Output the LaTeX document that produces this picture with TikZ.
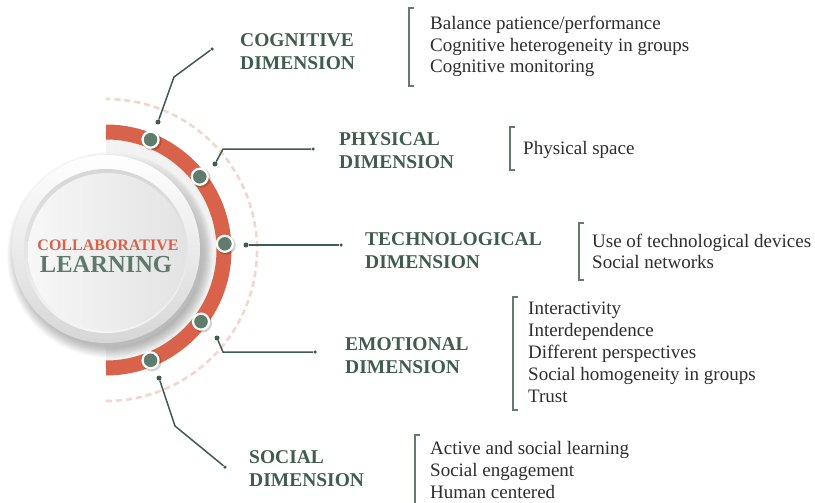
\documentclass[tikz,border=0pt]{standalone}
\usepackage{fontspec}
\setmainfont{Liberation Serif}
\usetikzlibrary{calc}
\definecolor{arcred}{HTML}{D8634A}
\definecolor{dotgreen}{HTML}{5F7C6D}
\definecolor{labgreen}{HTML}{3E5C4F}
\definecolor{dashpink}{HTML}{F6D6CC}
\definecolor{txtgray}{HTML}{2E2E2E}
\definecolor{learngreen}{HTML}{5E7A6B}
\tikzset{
  arcdot/.style={circle, fill=dotgreen, draw=white, line width=2.2pt, minimum size=16pt, inner sep=0pt},
  sdot/.style={circle, fill=labgreen, minimum size=5pt, inner sep=0pt},
  edot/.style={circle, fill=labgreen, minimum size=3.5pt, inner sep=0pt},
  conn/.style={draw=labgreen, line width=1.5pt},
  lab/.style={font=\fontsize{19.5}{23}\selectfont\bfseries, text=labgreen, align=left, anchor=west, inner sep=0pt},
  items/.style={font=\fontsize{19}{21.8}\selectfont, text=txtgray, align=left, anchor=west, inner sep=0pt},
  brk/.style={draw=dotgreen, line width=1.6pt}
}
\begin{document}
\begin{tikzpicture}[x=1pt,y=-1pt]
\useasboundingbox (0,0) rectangle (815,503);
\fill[white] (0,0) rectangle (815,503);
% dashed outer arc
\draw[dashpink, line width=2.6pt, dash pattern=on 6pt off 4pt] (106,250) ++(90:151) arc[start angle=90, end angle=-90, radius=151];
% shadow inside arc
\begin{scope}
  \clip (106,100) rectangle (240,400);
  \foreach \r in {98,...,111} {
    \draw[black, opacity=0.014, line width=3pt] (106,250) circle[radius=\r];
  }
\end{scope}
% circle shadow
\foreach \r in {92,...,103} {
  \fill[black, opacity=0.025] (110,255) circle[radius=\r];
}
% outer ring
\shade[shading angle=135, top color=white, bottom color=black!16] (106,249) circle[radius=94];
% inner disk
\shade[shading angle=120, top color=black!16, bottom color=black!4] (106,251) circle[radius=82];
\shade[shading angle=90, left color=black!3, right color=black!11] (107,252) circle[radius=79];
% red arc
\draw[arcred, line width=15pt] (106,250) ++(90:118) arc[start angle=90, end angle=-90, radius=118];
% arc dots
\foreach \a in {-68, -38, -3, 37, 68} {
  \fill[black, opacity=0.18] ($(106,250)+(\a:119)+(1.5,1.5)$) circle[radius=9.5];
}
\node[arcdot] (d1) at ($(106,250)+(-68:119)$) {};
\node[arcdot] (d2) at ($(106,250)+(-38:119)$) {};
\node[arcdot] (d3) at ($(106,250)+(-3:119)$) {};
\node[arcdot] (d4) at ($(106,250)+(37:119)$) {};
\node[arcdot] (d5) at ($(106,250)+(68:119)$) {};
% center text
\node[font=\fontsize{16}{16}\selectfont\bfseries, text=arcred, inner sep=0pt] (collab) at (108,245) {COLLABORATIVE};
\node[font=\fontsize{24.5}{24}\selectfont\bfseries, text=learngreen, inner sep=0pt] (learn) at (106,264.5) {LEARNING};
% connectors
\node[sdot] (c1s) at (158,122) {};
\coordinate (c1b) at (174,77);
\node[edot] (c1e) at (212,49) {};
\draw[conn] (c1s) -- (c1b) -- (c1e);
\node[sdot] (c2s) at (215,164) {};
\coordinate (c2b) at (223,149);
\node[edot] (c2e) at (313,149) {};
\draw[conn] (c2s) -- (c2b) -- (c2e);
\node[sdot] (c3s) at (246,245) {};
\node[edot] (c3e) at (341,245) {};
\draw[conn] (c3s) -- (c3e);
\node[sdot] (c4s) at (217,338) {};
\coordinate (c4b) at (223,352);
\node[edot] (c4e) at (315,352) {};
\draw[conn] (c4s) -- (c4b) -- (c4e);
\node[sdot] (c5s) at (159,378) {};
\coordinate (c5b) at (175,426);
\node[edot] (c5e) at (225,467) {};
\draw[conn] (c5s) -- (c5b) -- (c5e);
% labels
\node[lab] (l1) at (240,51.5) {COGNITIVE\\DIMENSION};
\node[lab] (l2) at (339,151) {PHYSICAL\\DIMENSION};
\node[lab] (l3) at (365,251) {TECHNOLOGICAL\\DIMENSION};
\node[lab] (l4) at (345,355.5) {EMOTIONAL\\DIMENSION};
\node[lab] (l5) at (249,469) {SOCIAL\\DIMENSION};
% item lists
\node[items] (i1) at (430,46.5) {Balance patience/performance\\Cognitive heterogeneity in groups\\Cognitive monitoring};
\node[items] (i2) at (523,150) {Physical space};
\node[items] (i3) at (592,251.5) {Use of technological devices\\Social networks};
\node[items] (i4) at (528,352.3) {Interactivity\\Interdependence\\Different perspectives\\Social homogeneity in groups\\Trust};
\node[items] (i5) at (430,470) {Active and social learning\\Social engagement\\Human centered};
% brackets
\draw[brk] (414,8) -- (409,8) -- (409,86) -- (414,86);
\draw[brk] (515,127) -- (510,127) -- (510,170) -- (515,170);
\draw[brk] (584,223) -- (579,223) -- (579,280) -- (584,280);
\draw[brk] (518,297) -- (513,297) -- (513,410) -- (518,410);
\draw[brk] (420,435) -- (415,435) -- (415,506);
\end{tikzpicture}
\end{document}
